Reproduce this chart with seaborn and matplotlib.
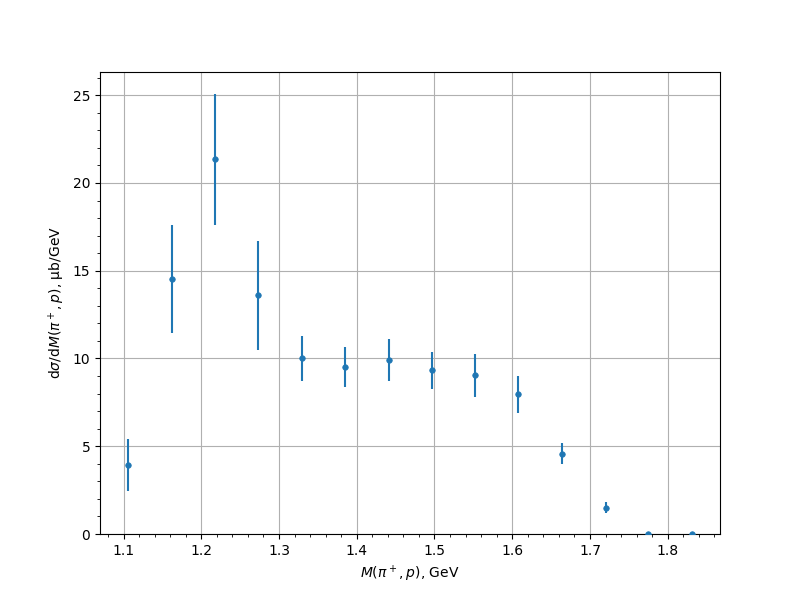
import numpy as np
import pandas as pd
import seaborn as sns
import matplotlib
matplotlib.use("Agg")
import matplotlib.pyplot as plt

# data
mass = [1.106, 1.162, 1.218, 1.273, 1.330, 1.385, 1.441,
        1.497, 1.552, 1.607, 1.664, 1.720, 1.775, 1.831]
xsec = [3.95, 14.55, 21.35, 13.61, 10.01, 9.51, 9.90,
        9.32, 9.04, 7.95, 4.58, 1.50, 0.02, 0.01]
xsec_err = [1.49, 3.08, 3.72, 3.10, 1.28, 1.14, 1.19,
            1.05, 1.22, 1.05, 0.62, 0.30, 0.02, 0.01]

df = pd.DataFrame({"mass": mass, "xsec": xsec, "err": xsec_err})

fig, ax = plt.subplots(figsize=(8, 6), dpi=100)
color = sns.color_palette()[0]

ax.errorbar(df["mass"], df["xsec"], yerr=df["err"], fmt="none",
            ecolor=color, elinewidth=1.5)
sns.scatterplot(data=df, x="mass", y="xsec", ax=ax, marker="o", s=16,
                color=color, edgecolor=color, linewidth=0.5, zorder=3)

ax.set_ylim(bottom=0)
ax.minorticks_on()
ax.grid(True, which="major")
ax.set_xlabel(r"$M(\pi^+, p)$, GeV")
ax.set_ylabel(r"d$\sigma$/d$M(\pi^+, p)$, μb/GeV")

plt.savefig("out.png")
